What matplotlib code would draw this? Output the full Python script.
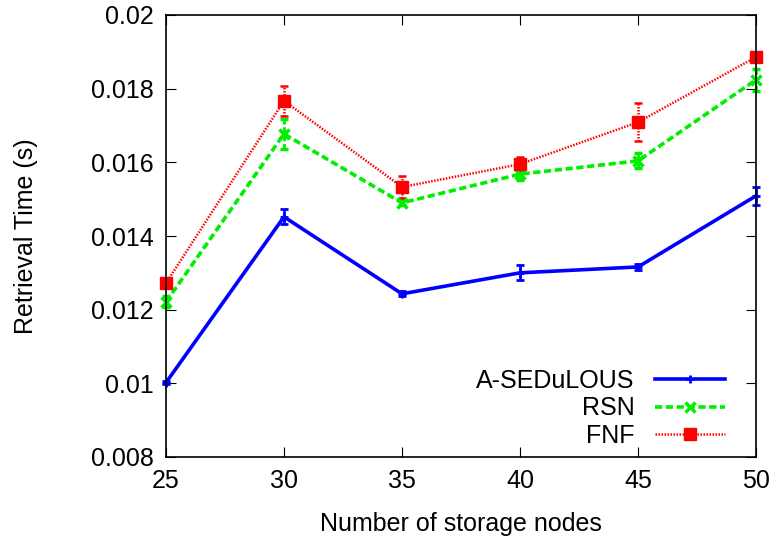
import matplotlib
matplotlib.use('Agg')
import matplotlib.pyplot as plt

plt.rcParams['font.family'] = ['Liberation Sans', 'DejaVu Sans']

nodes = [25, 30, 35, 40, 45, 50]

sedulous = [0.01002, 0.01452, 0.01243, 0.01300, 0.01316, 0.01509]
sedulous_err = [0.00005, 0.00020, 0.00007, 0.00020, 0.00007, 0.00025]

rsn = [0.01221, 0.01677, 0.01490, 0.01568, 0.01604, 0.01824]
rsn_err = [0.00015, 0.00040, 0.00007, 0.00015, 0.00020, 0.00030]

fnf = [0.01272, 0.01767, 0.01533, 0.01595, 0.01709, 0.01886]
fnf_err = [0.00005, 0.00040, 0.00030, 0.00020, 0.00052, 0.00005]

fig = plt.figure(figsize=(7.76, 5.43), dpi=100)
ax = fig.add_axes([166/776, 1-457/543, 590/776, 442/543])

c1 = ax.errorbar(nodes, sedulous, yerr=sedulous_err, color='#0000ff', lw=2.6,
                 marker='+', ms=6, mew=2, capsize=3, elinewidth=2, capthick=2)
c2 = ax.errorbar(nodes, rsn, yerr=rsn_err, color='#00ee00', lw=2.6, ls=(0, (2, 1)),
                 marker='x', ms=7, mew=2.5, capsize=3, elinewidth=2, capthick=2)
c3 = ax.errorbar(nodes, fnf, yerr=fnf_err, color='#ff0000', lw=1.8, ls=(0, (0.6, 0.6)),
                 marker='s', ms=9, capsize=3, elinewidth=1.8, capthick=1.8)
c3[2][0].set_linestyle((0, (0.6, 0.6)))
c2[2][0].set_linestyle((0, (2, 1)))
for c in (c1, c2, c3):
    for art in c.get_children():
        art.set_clip_on(False)

ax.set_xlim(25, 50)
ax.set_ylim(0.008, 0.02)
ax.set_xticks(nodes)
ax.set_yticks([0.008, 0.01, 0.012, 0.014, 0.016, 0.018, 0.02])
ax.set_yticklabels(['0.008', '0.01', '0.012', '0.014', '0.016', '0.018', '0.02'])
ax.tick_params(direction='in', top=True, right=True, length=7, labelsize=18, pad=9)
for s in ax.spines.values():
    s.set_linewidth(1.2)

ax.set_xlabel('Number of storage nodes', fontsize=18, labelpad=13)
ax.set_ylabel('Retrieval Time (s)', fontsize=18, labelpad=38)

ax.legend([c1[0], c2[0], c3[0]], ['A-SEDuLOUS', 'RSN', 'FNF'],
          loc='lower right', frameon=False, markerfirst=False, fontsize=18,
          handlelength=2.8, labelspacing=0.14, borderaxespad=0.5, handletextpad=0.8,
          bbox_to_anchor=(0.985, -0.03))

fig.savefig('out.png', dpi=100)
